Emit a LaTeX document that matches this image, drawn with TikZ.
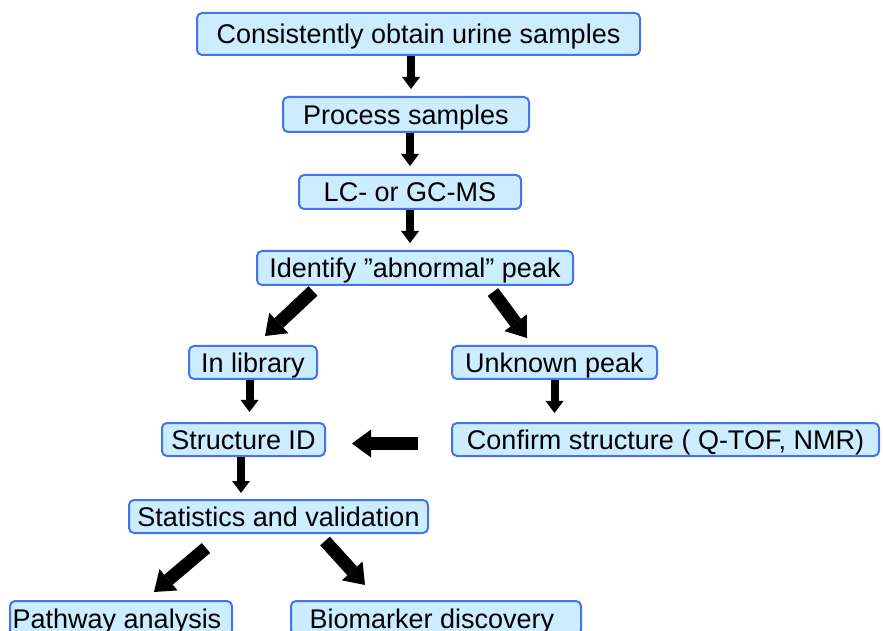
\documentclass[tikz,border=0pt]{standalone}
\usepackage{fontspec}
\setmainfont{Liberation Sans}
\usetikzlibrary{arrows.meta,calc}
\definecolor{boxfill}{RGB}{204,236,255}
\definecolor{boxdraw}{RGB}{66,116,242}
\begin{document}
\begin{tikzpicture}[x=0.75pt,y=-0.75pt,
  box/.style={draw=boxdraw,fill=boxfill,line width=1.5pt,rounded corners=3.75pt,
    inner sep=0pt,font=\fontsize{20.25pt}{24pt}\selectfont,
    text height=15pt,text depth=0pt,align=center},
  varrow/.style={line width=6pt,-{Triangle[length=9pt,width=13.5pt,line width=0pt]}},
  barrow/.style={line width=9.75pt,-{Triangle[length=14.25pt,width=21pt,line width=0pt]}}]
\useasboundingbox (0,0) rectangle (883,631);
\clip (0,0) rectangle (883,631);
\node[box,minimum width=443*0.75pt,minimum height=42*0.75pt] (n1) at (418.5,34) {Consistently obtain urine samples};
\node[box,minimum width=246*0.75pt,minimum height=35*0.75pt] (n2) at (406,114.5) {Process samples};
\node[box,minimum width=222*0.75pt,minimum height=34*0.75pt] (n3) at (410,192) {LC- or GC-MS};
\node[box,minimum width=316*0.75pt,minimum height=34*0.75pt] (n4) at (415,268) {Identify ”abnormal” peak};
\node[box,minimum width=128*0.75pt,minimum height=33*0.75pt] (n5) at (253,362.5) {In library};
\node[box,minimum width=205*0.75pt,minimum height=33*0.75pt] (n6) at (554.5,362.5) {Unknown peak};
\node[box,minimum width=163*0.75pt,minimum height=33*0.75pt] (n7) at (243.5,439.5) {Structure ID};
\node[box,minimum width=427*0.75pt,minimum height=33*0.75pt] (n8) at (665.5,439.5) {Confirm structure ( Q-TOF, NMR)};
\node[box,minimum width=299*0.75pt,minimum height=33*0.75pt] (n9) at (278.5,516.5) {Statistics and validation};
\node[box,minimum width=222*0.75pt,minimum height=34*0.75pt] (n10) at (121,618) {\kern-6pt Pathway analysis};
\node[box,minimum width=290*0.75pt,minimum height=34*0.75pt] (n11) at (436,618) {\kern-6pt Biomarker discovery};
% vertical arrows
\draw[varrow] ($(n1.south)+(-7.5,0)$) -- ($(n2.north)+(5,-7)$);
\draw[varrow] ($(n2.south)+(4,0)$) -- ($(n3.north)+(0,-8)$);
\draw[varrow] (n3.south) -- ($(n4.north)+(-5,-7)$);
\draw[varrow] ($(n5.south)+(-3.5,0)$) -- ($(n7.north)+(6,-10)$);
\draw[varrow] (n6.south) -- ($(n6.south|-n8.north)+(0,-9)$);
\draw[varrow] ($(n7.south)+(-2.5,0)$) -- ($(n7.south|-n9.north)+(-2.5,-6)$);
% block arrows
\draw[barrow] ($(n4.south)+(-102,5)$) -- ($(n5.north)+(12,-9)$);
\draw[barrow] ($(n4.south)+(78,6)$) -- ($(n6.north)+(-27.5,-7)$);
\draw[barrow] ($(n8.west)+(-33,4)$) -- ($(n7.east)+(26,4)$);
\draw[barrow] ($(n9.south)+(-72.5,14)$) -- ($(n10.north)+(33,-8)$);
\draw[barrow] ($(n9.south)+(46.5,7)$) -- ($(n11.north)+(-71,-15)$);
\end{tikzpicture}
\end{document}
